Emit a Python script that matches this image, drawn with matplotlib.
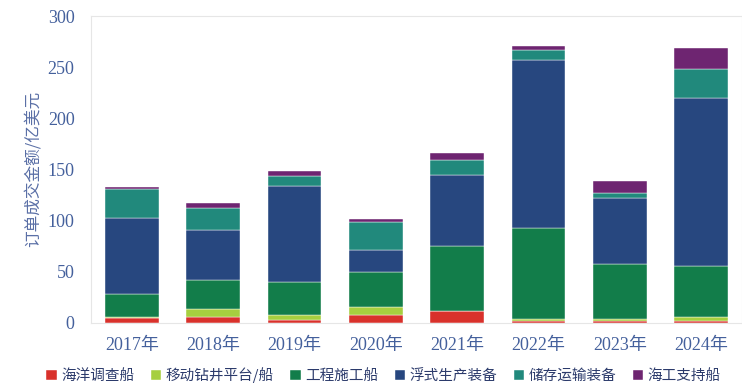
import matplotlib
matplotlib.use("Agg")
import matplotlib.pyplot as plt
import numpy as np

plt.rcParams['font.family'] = ['Liberation Serif', 'Noto Sans CJK SC']

years = ['2017年', '2018年', '2019年', '2020年', '2021年', '2022年', '2023年', '2024年']
names = ['海洋调查船', '移动钻井平台/船', '工程施工船', '浮式生产装备', '储存运输装备', '海工支持船']

survey = [4.5, 5.7, 2.7, 7.0, 11.0, 1.5, 1.8, 1.8]
drilling = [1.2, 7.5, 4.9, 8.5, 0.0, 1.9, 1.6, 3.9]
construction = [22.5, 28.4, 32.0, 33.9, 64.2, 88.8, 53.6, 49.9]
production = [73.8, 48.9, 94.3, 21.9, 69.2, 165.0, 65.2, 164.4]
storage = [29.0, 21.9, 9.8, 27.4, 15.0, 9.8, 4.3, 28.4]
support = [1.3, 4.3, 4.3, 2.3, 6.2, 3.3, 11.7, 19.9]

series = [survey, drilling, construction, production, storage, support]
colors = ['#d9312b', '#a6cf3f', '#127d4a', '#27477f', '#21897c', '#6e2571']

tick_color = '#44609c'

fig = plt.figure(figsize=(7.42, 3.92), dpi=100)
ax = fig.add_axes([0.123, 0.177, 0.877, 0.782])

x = np.arange(len(years))
bottom = np.zeros(len(years))
handles = []
for vals, c, n in zip(series, colors, names):
    b = ax.bar(x, vals, 0.66, bottom=bottom, color=c, label=n,
               edgecolor='white', linewidth=0.3)
    handles.append(b)
    bottom += np.array(vals)

ax.set_xlim(-0.5, len(years) - 0.5)
ax.set_ylim(0, 300)
ax.set_yticks(range(0, 301, 50))
ax.set_xticks(x)
ax.set_xticklabels(years)
ax.tick_params(axis='both', length=0, colors=tick_color, labelsize=13)
ax.tick_params(axis='x', pad=10)
ax.tick_params(axis='y', pad=12)
for s in ax.spines.values():
    s.set_color('#e6e6e6')
    s.set_linewidth(0.8)

ax.set_ylabel('订单成交金额/亿美元', family=['Noto Sans CJK SC'], fontsize=12,
              color='#5a6fa6', labelpad=4)

fig.legend(handles, names, loc='lower center', bbox_to_anchor=(0.517, -0.01),
           ncol=6, frameon=False, handlelength=0.7, handleheight=0.7,
           handletextpad=0.3, columnspacing=1.15,
           prop={'family': ['Noto Sans CJK SC'], 'size': 10.5},
           labelcolor='#2b3a6b')

fig.savefig('out.png', dpi=100)
